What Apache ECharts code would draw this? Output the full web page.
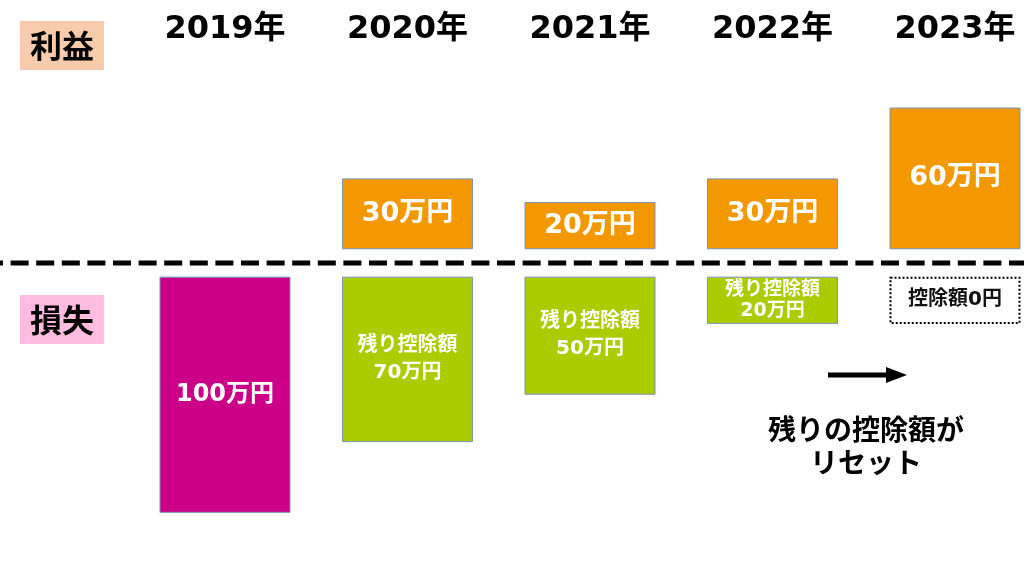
<!DOCTYPE html>
<html>
<head>
<meta charset="utf-8">
<script src="https://cdn.jsdelivr.net/npm/echarts@6/dist/echarts.min.js"></script>
<style>
html,body{margin:0;padding:0;background:#fff;}
#main{width:1024px;height:576px;}
</style>
</head>
<body>
<div id="main"></div>
<script>
// ---- data ----
const years = ['2019年', '2020年', '2021年', '2022年', '2023年'];
const profit = [null, 30, 20, 30, 60];          // 利益 (万円)
const remaining = [100, 70, 50, 20, null];       // 損失 / 残り控除額 (万円)
const resetPrev = [null, null, null, null, 20];  // リセットされた控除額 (前年の残り)
const resetLabel = '控除額0円';
const noteText = '残りの控除額が\nリセット';

// ---- style ----
const FONT = '"DejaVu Sans", "Noto Sans CJK JP", sans-serif';
const CJK = '"Noto Sans CJK JP", sans-serif';
const ORANGE = '#F39800';
const MAGENTA = '#CC0088';
const GREEN = '#AACC00';
const EDGE = '#7A93B8';
const GAP = 5.8; // gap around the zero line in value units

const chart = echarts.init(document.getElementById('main'));

const dash = v => (v == null ? '-' : v);

chart.setOption({
  backgroundColor: '#ffffff',
  animation: false,
  grid: { left: 133.75, right: -22.25, top: 74, bottom: 6, containLabel: false, outerBoundsMode: 'none' },
  xAxis: {
    type: 'category',
    position: 'top',
    data: years,
    axisLine: { show: false },
    axisTick: { show: false },
    axisLabel: { color: '#000', fontFamily: FONT, fontWeight: 'bold', fontSize: 32, margin: 28 }
  },
  yAxis: { type: 'value', min: -130, max: 80, show: false, splitLine: { show: false } },
  series: [
    {
      name: 'gapPos', type: 'bar', stack: 'all', barWidth: 131,
      data: profit.map(v => (v == null ? '-' : GAP)),
      itemStyle: { color: 'transparent' }, silent: true
    },
    {
      name: '利益', type: 'bar', stack: 'all', barWidth: 131,
      data: profit.map(dash),
      itemStyle: { color: ORANGE, borderColor: EDGE, borderWidth: 1 },
      label: {
        show: true, position: 'inside', color: '#fff', fontFamily: FONT, fontWeight: 'bold', fontSize: 27,
        formatter: p => p.value + '万円'
      }
    },
    {
      name: 'gapNeg', type: 'bar', stack: 'all', barWidth: 131,
      data: years.map(() => -GAP),
      itemStyle: { color: 'transparent' }, silent: true
    },
    {
      name: '損失', type: 'bar', stack: 'all', barWidth: 131,
      data: remaining.map((v, i) => v == null ? '-' : {
        value: -v,
        itemStyle: { color: i === 0 ? MAGENTA : GREEN },
        label: i === 0
          ? { formatter: v + '万円', fontSize: 24 }
          : { formatter: '残り控除額\n' + v + '万円', fontSize: i === 3 ? 19 : 20, lineHeight: i === 3 ? 21 : 27 }
      }),
      itemStyle: { borderColor: EDGE, borderWidth: 1 },
      label: { show: true, position: 'inside', color: '#fff', fontFamily: FONT, fontWeight: 'bold' }
    },
    {
      name: 'リセット', type: 'bar', stack: 'all', barWidth: 126,
      data: resetPrev.map(v => (v == null ? '-' : -v)),
      itemStyle: { color: '#fff', borderColor: '#000', borderWidth: 2, borderType: [2, 2] },
      label: {
        show: true, position: 'inside', color: '#111', fontFamily: FONT, fontWeight: 'bold', fontSize: 20,
        formatter: resetLabel
      }
    }
  ]
});

const zeroY = chart.convertToPixel({ yAxisIndex: 0 }, 0);

chart.setOption({
  graphic: [
    {
      type: 'line', silent: true,
      shape: { x1: 0, y1: zeroY, x2: 1024, y2: zeroY },
      style: { stroke: '#000', lineWidth: 5, lineDash: [18, 7.6], lineDashOffset: 15 }
    },
    { type: 'rect', silent: true, shape: { x: 20, y: 21, width: 84, height: 49 }, style: { fill: '#F8CBAD' } },
    {
      type: 'text', silent: true, x: 62, y: 46,
      style: { text: '利益', fontFamily: CJK, fontWeight: 'bold', fontSize: 32, fill: '#000', align: 'center', verticalAlign: 'middle' }
    },
    { type: 'rect', silent: true, shape: { x: 20, y: 295, width: 84, height: 49 }, style: { fill: '#FFBBE0' } },
    {
      type: 'text', silent: true, x: 62, y: 320,
      style: { text: '損失', fontFamily: CJK, fontWeight: 'bold', fontSize: 32, fill: '#000', align: 'center', verticalAlign: 'middle' }
    },
    {
      type: 'line', silent: true,
      shape: { x1: 828, y1: 375, x2: 888, y2: 375 },
      style: { stroke: '#000', lineWidth: 5 }
    },
    {
      type: 'polygon', silent: true,
      shape: { points: [[886, 367], [907, 375], [886, 383]] },
      style: { fill: '#000' }
    },
    {
      type: 'text', silent: true, x: 866, y: 446,
      style: {
        text: noteText, fontFamily: CJK, fontWeight: 'bold', fontSize: 28, fill: '#000',
        align: 'center', verticalAlign: 'middle', lineHeight: 33
      }
    }
  ]
});
</script>
</body>
</html>
